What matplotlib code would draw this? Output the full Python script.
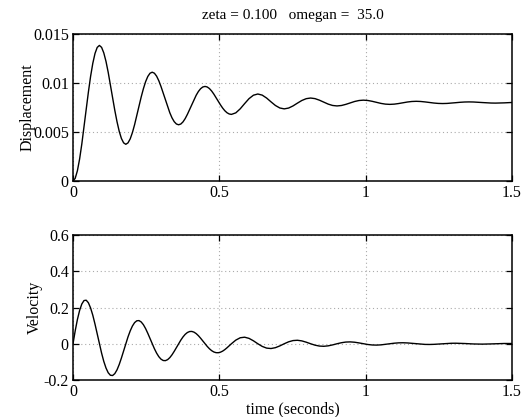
import matplotlib
matplotlib.use("Agg")
import matplotlib.pyplot as plt

# time samples (seconds)
time_s = [
    0.0, 0.0075, 0.0150, 0.0226, 0.0301, 0.0376, 0.0451, 0.0526, 0.0601, 0.0677,
    0.0752, 0.0827, 0.0902, 0.0977, 0.1052, 0.1128, 0.1203, 0.1278, 0.1353, 0.1428,
    0.1504, 0.1579, 0.1654, 0.1729, 0.1804, 0.1879, 0.1955, 0.2030, 0.2105, 0.2180,
    0.2255, 0.2330, 0.2406, 0.2481, 0.2556, 0.2631, 0.2706, 0.2782, 0.2857, 0.2932,
    0.3007, 0.3082, 0.3157, 0.3233, 0.3308, 0.3383, 0.3458, 0.3533, 0.3608, 0.3684,
    0.3759, 0.3834, 0.3909, 0.3984, 0.4060, 0.4135, 0.4210, 0.4285, 0.4360, 0.4435,
    0.4511, 0.4586, 0.4661, 0.4736, 0.4811, 0.4887, 0.4962, 0.5037, 0.5112, 0.5187,
    0.5262, 0.5338, 0.5413,
    0.5563, 0.5713, 0.5864, 0.6014, 0.6165, 0.6315, 0.6465, 0.6616, 0.6766, 0.6916,
    0.7067, 0.7217, 0.7367, 0.7518, 0.7668, 0.7818, 0.7969, 0.8119, 0.8269, 0.8420,
    0.8570, 0.8721, 0.8871, 0.9021, 0.9172, 0.9322, 0.9472, 0.9623, 0.9773, 0.9923,
    1.0074, 1.0224, 1.0374, 1.0525, 1.0675, 1.0825, 1.0976, 1.1126, 1.1277, 1.1427,
    1.1577, 1.1728, 1.1878, 1.2028, 1.2179, 1.2329, 1.2479, 1.2630, 1.2780, 1.2930,
    1.3081, 1.3231, 1.3381, 1.3532, 1.3682, 1.3833, 1.3983, 1.4133, 1.4284, 1.4434,
    1.4584, 1.4735, 1.4885, 1.5000,
]

displacement = [
    0.0, 0.00027058, 0.0010456, 0.0022471, 0.0037728, 0.0055038, 0.0073134, 0.0090762,
    0.0106766, 0.0120154, 0.0130163, 0.0136296, 0.0138340, 0.0136366, 0.0130715,
    0.0121953, 0.0110826, 0.0098204, 0.0085007, 0.0072151, 0.0060481, 0.0050718,
    0.0043419, 0.0038946,
    0.0037456, 0.0038895, 0.0043016, 0.0049406, 0.0057520, 0.0066725, 0.0076349,
    0.0085723, 0.0094234, 0.0101354, 0.0106677, 0.0109938, 0.0111025, 0.0109976,
    0.0106970, 0.0102311, 0.0096393, 0.0089681, 0.0082663, 0.0075826, 0.0069620,
    0.0064428, 0.0060546, 0.0058167,
    0.0057375, 0.0058140, 0.0060332, 0.0063730, 0.0068045, 0.0072940, 0.0078058,
    0.0083044, 0.0087570, 0.0091356, 0.0094187, 0.0095921, 0.0096499, 0.0095941,
    0.0094343, 0.0091865, 0.0088718, 0.0085148, 0.0081416, 0.0077780, 0.0074480,
    0.0071719, 0.0069654, 0.0068389,
    0.0067968, 0.0069540, 0.0073642, 0.0078967, 0.0084026, 0.0087545, 0.0088774,
    0.0087628, 0.0084636, 0.0080753, 0.0077064, 0.0074498,
    0.0073601, 0.0074438, 0.0076619, 0.0079451, 0.0082141, 0.0084012, 0.0084666,
    0.0084056, 0.0082466, 0.0080400, 0.0078439, 0.0077074,
    0.0076597, 0.0077042, 0.0078202, 0.0079708, 0.0081139, 0.0082134, 0.0082482,
    0.0082157, 0.0081311, 0.0080213, 0.0079170, 0.0078444,
    0.0078190, 0.0078427, 0.0079044, 0.0079845, 0.0080605, 0.0081135, 0.0081320,
    0.0081147, 0.0080697, 0.0080113, 0.0079558, 0.0079172,
    0.0079038, 0.0079163, 0.0079491, 0.0079917, 0.0080322, 0.0080603, 0.0080702,
    0.0080610, 0.0080371, 0.0080060, 0.0079765, 0.0079560,
    0.0079488, 0.0079555, 0.0079730, 0.0079956, 0.0080124,
]

velocity = [
    0.0, 0.070943, 0.133492, 0.183884, 0.219362, 0.238313, 0.240312, 0.226096,
    0.197448, 0.157029, 0.108153, 0.054530, 0.0, -0.051735, -0.097348, -0.134096,
    -0.159969, -0.173789, -0.175247, -0.164880, -0.143988, -0.114513, -0.078870,
    -0.039766,
    0.0, 0.037728, 0.070991, 0.097790, 0.116657, 0.126736, 0.127799, 0.120239,
    0.105003, 0.083509, 0.057516, 0.028999, 0.0, -0.027513, -0.051770, -0.071313,
    -0.085072, -0.092421, -0.093197, -0.087684, -0.076573, -0.060898, -0.041943,
    -0.021148,
    0.0, 0.020064, 0.037753, 0.052005, 0.062039, 0.067398, 0.067964, 0.063943,
    0.055841, 0.044410, 0.030587, 0.015422, 0.0, -0.014631, -0.027531, -0.037924,
    -0.045241, -0.049150, -0.049562, -0.046631, -0.040722, -0.032386, -0.022306,
    -0.011246,
    0.0, 0.020077, 0.032992, 0.036143, 0.029696, 0.016266, 0.0, -0.014641,
    -0.024060, -0.026357, -0.021656, -0.011862,
    0.0, 0.010677, 0.017545, 0.019221, 0.015793, 0.008650, 0.0, -0.007786,
    -0.012795, -0.014017, -0.011517, -0.006308,
    0.0, 0.005678, 0.009331, 0.010222, 0.008399, 0.004600, 0.0, -0.004141,
    -0.006804, -0.007454, -0.006125, -0.003355,
    0.0, 0.003020, 0.004962, 0.005436, 0.004466, 0.002447, 0.0, -0.002202,
    -0.003619, -0.003964, -0.003257, -0.001784,
    0.0, 0.001606, 0.002639, 0.002891, 0.002375, 0.001301, 0.0, -0.001171,
    -0.001924, -0.002108, -0.001732, -0.000949,
    0.0, 0.000854, 0.001404, 0.001537, 0.001360,
]

x_ticks = [0, 0.5, 1, 1.5]
x_tick_labels = ["0", "0.5", "1", "1.5"]
disp_ticks = [0, 0.005, 0.01, 0.015]
disp_tick_labels = ["0", "0.005", "0.01", "0.015"]
vel_ticks = [-0.2, 0, 0.2, 0.4, 0.6]
vel_tick_labels = ["-0.2", "0", "0.2", "0.4", "0.6"]
title_text = "zeta = 0.100   omegan =  35.0"

plt.rcParams["font.family"] = ["Liberation Serif", "DejaVu Serif"]
plt.rcParams["font.size"] = 11.5

W, H = 527, 417
fig = plt.figure(figsize=(W / 100, H / 100), dpi=100)

def box(l, t, r, b):
    return [l / W, 1 - b / H, (r - l) / W, (b - t) / H]

ax1 = fig.add_axes(box(73, 34, 512, 181))
ax2 = fig.add_axes(box(73, 235, 512, 380))

for ax in (ax1, ax2):
    for s in ax.spines.values():
        s.set_linewidth(1.1)
    ax.tick_params(direction="in", length=4, width=0.9, pad=3,
                   top=True, right=True)
    ax.grid(True, linestyle=(0, (1, 2.5)), color="#aaaaaa", linewidth=0.8)
    ax.set_xlim(0, 1.5)
    ax.set_xticks(x_ticks)
    ax.set_xticklabels(x_tick_labels)

ax1.plot(time_s, displacement, color="black", linewidth=1.0)
ax1.set_ylim(0, 0.015)
ax1.set_yticks(disp_ticks)
ax1.set_yticklabels(disp_tick_labels)
ax1.set_ylabel("Displacement")
ax1.yaxis.set_label_coords(-37 / 439, 0.5)
ax1.set_title(title_text, fontsize=11, pad=11)

ax2.plot(time_s, velocity, color="black", linewidth=1.0)
ax2.set_ylim(-0.2, 0.6)
ax2.set_yticks(vel_ticks)
ax2.set_yticklabels(vel_tick_labels)
ax2.set_ylabel("Velocity")
ax2.yaxis.set_label_coords(-30 / 439, 0.5)
ax2.set_xlabel("time (seconds)", labelpad=1)

fig.savefig("out.png", dpi=100)
